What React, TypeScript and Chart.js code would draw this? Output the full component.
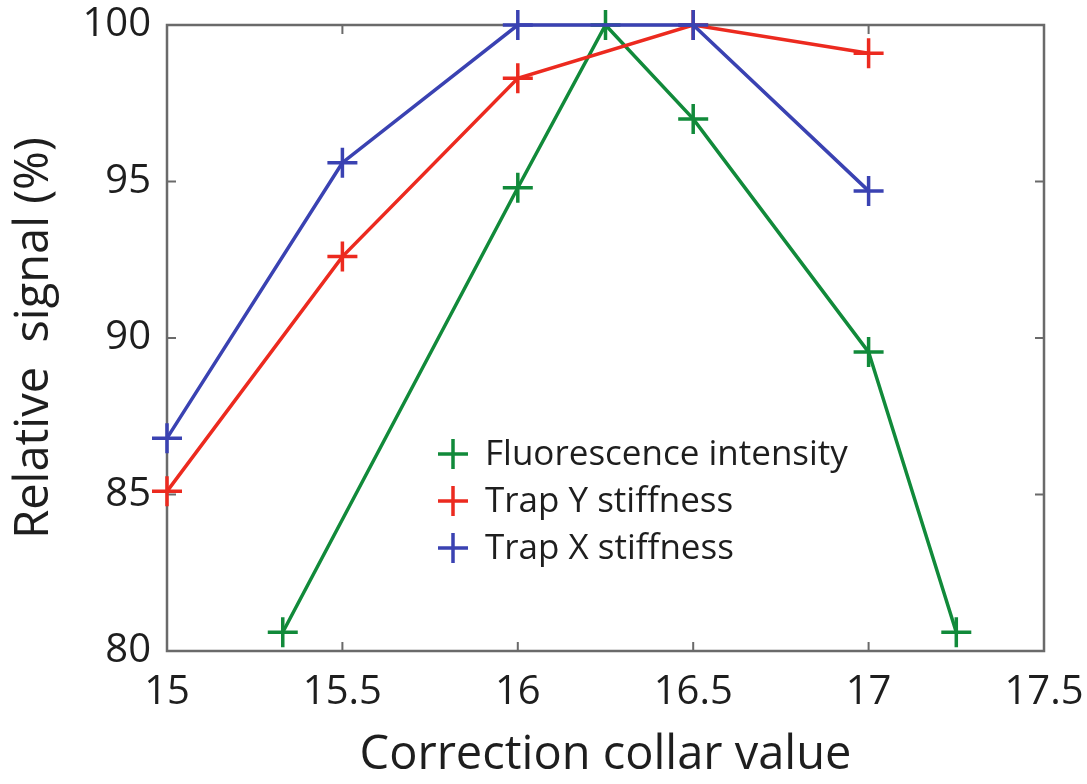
import React, { useEffect, useRef } from "react";
import { Chart, registerables } from "chart.js";

Chart.register(...registerables);

// ---- data ----
const fluoX = [15.33, 16, 16.25, 16.5, 17, 17.25];
const fluoY = [80.6, 94.8, 100, 97.0, 89.55, 80.6];
const trapX = [15, 15.5, 16, 16.5, 17];
const trapYStiff = [85.1, 92.6, 98.3, 100, 99.1];
const trapXStiff = [86.8, 95.6, 100, 100, 94.7];
const seriesLabels = ["Fluorescence intensity", "Trap Y stiffness", "Trap X stiffness"];
const xTicks = [15, 15.5, 16, 16.5, 17, 17.5];
const xTickLabels = ["15", "15.5", "16", "16.5", "17", "17.5"];
const yTicks = [80, 85, 90, 95, 100];
const yTickLabels = ["80", "85", "90", "95", "100"];

const GREEN = "#118a3a";
const RED = "#ec2a1f";
const BLUE = "#3a42b2";
const AXIS = "#6a6a6a";
const TEXT = "#1e1e1e";
const FONT = "'Open Sans', 'DejaVu Sans', sans-serif";

const framePlugin = {
  id: "frame",
  beforeDatasetsDraw(chart: any) {
    const { ctx, chartArea } = chart;
    const { left, right, top, bottom } = chartArea;
    const xs = chart.scales.x;
    const ys = chart.scales.y;
    const tl = 9;
    ctx.save();
    ctx.strokeStyle = AXIS;
    ctx.lineWidth = 2.5;
    ctx.beginPath();
    ctx.rect(left, top, right - left, bottom - top);
    ctx.stroke();
    ctx.lineWidth = 2;
    ctx.beginPath();
    xTicks.forEach((v) => {
      const px = xs.getPixelForValue(v);
      ctx.moveTo(px, bottom);
      ctx.lineTo(px, bottom - tl);
      ctx.moveTo(px, top);
      ctx.lineTo(px, top + tl);
    });
    yTicks.forEach((v) => {
      const py = ys.getPixelForValue(v);
      ctx.moveTo(left, py);
      ctx.lineTo(left + tl, py);
      ctx.moveTo(right, py);
      ctx.lineTo(right - tl, py);
    });
    ctx.stroke();
    ctx.restore();
  },
};

const legendPlugin = {
  id: "insideLegend",
  afterDatasetsDraw(chart: any) {
    const { ctx } = chart;
    const markerX = 453;
    const textX = 485;
    const startY = 454;
    const gap = 47;
    ctx.save();
    ctx.font = `35px ${FONT}`;
    ctx.textBaseline = "middle";
    ctx.textAlign = "left";
    chart.data.datasets.forEach((ds: any, i: number) => {
      const y = startY + i * gap;
      ctx.strokeStyle = ds.borderColor;
      ctx.lineWidth = 3.5;
      ctx.beginPath();
      ctx.moveTo(markerX - 15, y);
      ctx.lineTo(markerX + 15, y);
      ctx.moveTo(markerX, y - 15);
      ctx.lineTo(markerX, y + 15);
      ctx.stroke();
      ctx.fillStyle = TEXT;
      ctx.fillText(ds.label, textX, y + 1);
    });
    ctx.restore();
  },
};

export default function App() {
  const ref = useRef<HTMLCanvasElement | null>(null);

  useEffect(() => {
    if (!ref.current) return;
    const mk = (xs: number[], ys: number[]) => xs.map((x, i) => ({ x, y: ys[i] }));
    const common = {
      pointStyle: "cross",
      pointRadius: 15,
      pointBorderWidth: 3.5,
      borderWidth: 3.5,
      fill: false,
      tension: 0,
      clip: false,
    };
    const chart = new Chart(ref.current, {
      type: "line",
      data: {
        datasets: [
          { ...common, label: seriesLabels[0], data: mk(fluoX, fluoY), borderColor: GREEN, backgroundColor: GREEN, order: 3 },
          { ...common, label: seriesLabels[1], data: mk(trapX, trapYStiff), borderColor: RED, backgroundColor: RED, order: 2 },
          { ...common, label: seriesLabels[2], data: mk(trapX, trapXStiff), borderColor: BLUE, backgroundColor: BLUE, order: 1 },
        ] as any,
      },
      options: {
        animation: false,
        responsive: true,
        maintainAspectRatio: false,
        layout: { padding: { left: 0, right: 43, top: 25, bottom: 0 } },
        plugins: {
          legend: { display: false },
          tooltip: { enabled: false },
        },
        scales: {
          x: {
            type: "linear",
            min: 15,
            max: 17.5,
            afterFit: (s: any) => { s.height = 133; s.paddingLeft = 0; s.paddingRight = 0; },
            afterBuildTicks: (s: any) => { s.ticks = xTicks.map((v) => ({ value: v })); },
            grid: { display: false, drawTicks: false },
            border: { display: false },
            ticks: {
              color: TEXT,
              font: { family: FONT, size: 40 },
              padding: 18,
              maxRotation: 0,
              autoSkip: false,
              callback: (v: any) => { const i = xTicks.indexOf(Number(v)); return i >= 0 ? xTickLabels[i] : ""; },
            },
            title: {
              display: true,
              text: "Correction collar value",
              color: TEXT,
              font: { family: FONT, size: 47 },
              padding: { top: 0, bottom: 0 },
            },
          },
          y: {
            type: "linear",
            min: 80,
            max: 100,
            afterFit: (s: any) => { s.width = 167; s.paddingTop = 0; s.paddingBottom = 0; },
            afterBuildTicks: (s: any) => { s.ticks = yTicks.map((v) => ({ value: v })); },
            grid: { display: false, drawTicks: false },
            border: { display: false },
            ticks: {
              color: TEXT,
              font: { family: FONT, size: 40 },
              padding: 16,
              autoSkip: false,
              callback: (v: any) => { const i = yTicks.indexOf(Number(v)); return i >= 0 ? yTickLabels[i] : ""; },
            },
            title: {
              display: true,
              text: "Relative  signal (%)",
              color: TEXT,
              font: { family: FONT, size: 47 },
              padding: { top: 6, bottom: 0 },
            },
          },
        },
      },
      plugins: [framePlugin, legendPlugin],
    } as any);
    return () => chart.destroy();
  }, []);

  return (
    <div style={{ position: "absolute", left: 0, top: 0, width: 1087, height: 784, background: "#fff" }}>
      <canvas ref={ref} />
    </div>
  );
}
